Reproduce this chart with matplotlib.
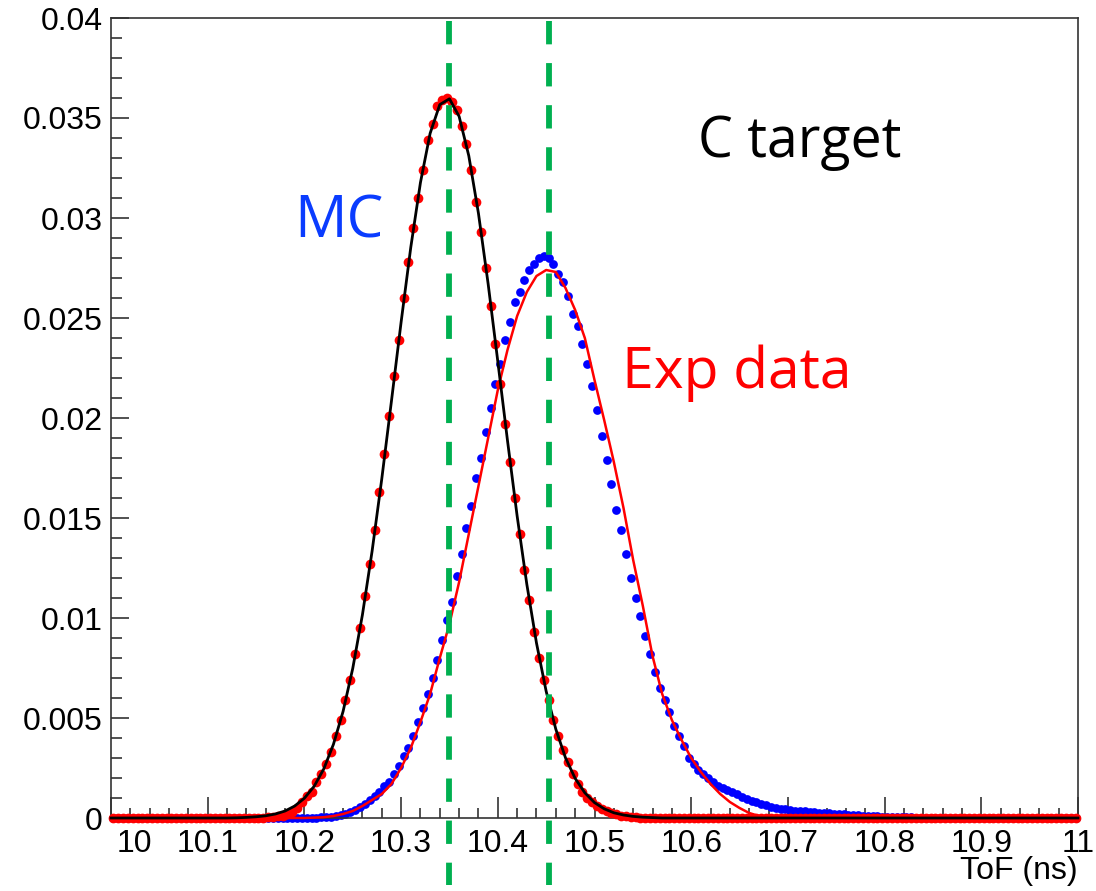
import numpy as np
import matplotlib.pyplot as plt
from matplotlib.ticker import MultipleLocator
from matplotlib.transforms import ScaledTranslation

plt.rcParams['font.family'] = ['Liberation Sans', 'DejaVu Sans']
plt.rcParams['lines.scale_dashes'] = False

# ToF histogram, 200 bins from 10 to 11 ns
tof_lo, tof_hi, n_bins = 10.0, 11.0, 200

# red points (black fit drawn over them)
red_points = [0.0] * 32 + [
    0.00003, 0.00005, 0.00008, 0.00012, 0.0002, 0.0003, 0.0005, 0.0008,
    0.0011, 0.0013, 0.0018, 0.0022, 0.0027, 0.0033, 0.0041, 0.0049,
    0.0059, 0.0069, 0.0082, 0.0095, 0.0111, 0.0127, 0.0144, 0.0163,
    0.0182, 0.0201, 0.0221, 0.0239, 0.0260, 0.0278, 0.0295, 0.0310,
    0.0324, 0.0339, 0.0347, 0.0356, 0.0359, 0.0360, 0.0358, 0.0354,
    0.0346, 0.0337, 0.0324, 0.0308, 0.0293, 0.0275, 0.0256, 0.0237,
    0.0217, 0.0197, 0.0178, 0.0160, 0.0142, 0.0124, 0.0109, 0.0093,
    0.0080, 0.0069, 0.0059, 0.0049, 0.0041, 0.0034, 0.0028, 0.0022,
    0.0017, 0.0013, 0.0010, 0.0008, 0.0006, 0.00045, 0.00035, 0.00025,
    0.00018, 0.00012, 0.00008, 0.00005, 0.00003, 0.00002,
] + [0.0] * 90

# blue points (red fit drawn over them)
blue_points = [0.0] * 41 + [
    0.00001, 0.00002, 0.00003, 0.00005, 0.00007, 0.0001, 0.00014, 0.0002,
    0.0003, 0.0004, 0.00055, 0.0007, 0.0009, 0.0011, 0.0013, 0.0016,
    0.0018, 0.0022, 0.0026, 0.0031, 0.0035, 0.0041, 0.0048, 0.0055,
    0.0062, 0.0070, 0.0079, 0.0089, 0.0099, 0.0108, 0.0121, 0.0132,
    0.0145, 0.0156, 0.0170, 0.0180, 0.0193, 0.0205, 0.0217, 0.0227,
    0.0239, 0.0248, 0.0258, 0.0263, 0.0269, 0.0274, 0.0277, 0.0280,
    0.0281, 0.0280, 0.0277, 0.0272, 0.0268, 0.0261, 0.0252, 0.0246,
    0.0237, 0.0227, 0.0216, 0.0204, 0.0191, 0.0179, 0.0167, 0.0154,
    0.0144, 0.0132, 0.0120, 0.0110, 0.0101, 0.0091, 0.0082, 0.0073,
    0.0065, 0.0059, 0.0053, 0.0046, 0.0041, 0.0036, 0.0030, 0.0027,
    0.0024, 0.0022, 0.0020, 0.0018, 0.0016, 0.0015, 0.0014, 0.0013,
    0.00118, 0.00106, 0.00095, 0.00086, 0.00078, 0.0007, 0.00063, 0.00057,
    0.00052, 0.00047, 0.00043, 0.0004, 0.00037, 0.00035, 0.00033, 0.00031,
    0.00029, 0.00027, 0.00025, 0.00023, 0.00021, 0.0002, 0.00018, 0.00017,
    0.00015, 0.00014, 0.00012, 0.00011, 0.0001, 0.00008, 0.00007, 0.00006,
    0.00005, 0.00005, 0.00004, 0.00003, 0.00003, 0.00002, 0.00002, 0.00001,
    0.00001, 0.00001,
] + [0.0] * 29

# fitted curves, sampled every 0.01 ns from 10 to 11
black_fit = [0.0] * 13 + [
    0.00001, 0.00003, 0.00006, 0.00011, 0.0002, 0.00035, 0.0006, 0.00099,
    0.00158, 0.00245, 0.00368, 0.00533, 0.00748, 0.01016, 0.01334, 0.01695,
    0.02084, 0.02479, 0.02853, 0.03177, 0.03423, 0.03567, 0.03596, 0.03508,
    0.03311, 0.03023, 0.02671, 0.02283, 0.01888, 0.0151, 0.01169, 0.00875,
    0.00634, 0.00444, 0.00301, 0.00198, 0.00126, 0.00077, 0.00046, 0.00026,
    0.00015, 0.00008, 0.00004, 0.00002,
] + [0.0] * 44

red_fit = [0.0] * 21 + [
    0.00002, 0.00004, 0.0001, 0.0002, 0.00035, 0.0006, 0.0009, 0.0012,
    0.0017, 0.0025, 0.0035, 0.0048, 0.0062, 0.0080, 0.0097, 0.0118,
    0.0142, 0.0166, 0.0190, 0.0214, 0.0234, 0.0251, 0.0263, 0.0271,
    0.0274, 0.0273, 0.0265, 0.0254, 0.0240, 0.0219, 0.0199, 0.0178,
    0.0155, 0.0129, 0.0106, 0.0081, 0.0062, 0.0049, 0.0039, 0.0030,
    0.0023, 0.0017, 0.0012, 0.0008, 0.0005, 0.00025, 0.0001, 0.00003,
] + [0.0] * 32

peak_lines = [10.35, 10.453]
x_tick_labels = ['10', '10.1', '10.2', '10.3', '10.4', '10.5', '10.6', '10.7', '10.8', '10.9', '11']
y_tick_labels = ['0', '0.005', '0.01', '0.015', '0.02', '0.025', '0.03', '0.035', '0.04']

bin_width = (tof_hi - tof_lo) / n_bins
centres = tof_lo + (np.arange(n_bins) + 0.5) * bin_width
fit_x = np.linspace(tof_lo, tof_hi, len(black_fit))

fig = plt.figure(figsize=(10.96, 8.91), dpi=100)
ax = fig.add_axes([111 / 1096, 1 - 818 / 891, 967 / 1096, 800 / 891])

ax.plot(centres, blue_points, 'o', color='#0000ff', ms=6.3, mec='none', clip_on=False, zorder=2)
ax.plot(centres, red_points, 'o', color='#ff0000', ms=7.0, mec='none', clip_on=False, zorder=3)
ax.plot(fit_x, red_fit, '-', color='#ff0000', lw=1.8, clip_on=False, zorder=4)
ax.plot(fit_x, black_fit, '-', color='black', lw=2.0, clip_on=False, zorder=5)

for xl in peak_lines:
    ax.plot([xl, xl], [0.03985, -0.00335], color='#00b050', lw=4.2,
            dashes=(16.8, 13.5), clip_on=False, zorder=10)

ax.set_xlim(tof_lo, tof_hi)
ax.set_ylim(0, 0.04)
ax.set_xticks(np.linspace(10, 11, 11))
ax.set_xticklabels(x_tick_labels)
ax.set_yticks(np.linspace(0, 0.04, 9))
ax.set_yticklabels(y_tick_labels)
ax.xaxis.set_minor_locator(MultipleLocator(0.02))
ax.yaxis.set_minor_locator(MultipleLocator(0.001))
ax.tick_params(axis='both', which='both', direction='in', top=False, right=False,
               width=1.2, color='#333333', labelsize=23)
ax.tick_params(axis='x', which='major', length=15, pad=8)
ax.tick_params(axis='x', which='minor', length=7)
ax.tick_params(axis='y', which='major', length=13, pad=6)
ax.tick_params(axis='y', which='minor', length=8)
for sp in ax.spines.values():
    sp.set_linewidth(1.2)
    sp.set_color('#333333')

# first x label sits right of its tick so it clears the "0" of the y axis
first = ax.get_xticklabels()[0]
first.set_horizontalalignment('left')
first.set_transform(first.get_transform() + ScaledTranslation(6 / 100, 0, fig.dpi_scale_trans))

fig.text(1078 / 1096, 1 - 856 / 891, 'ToF (ns)', ha='right', va='top', fontsize=23)

ax.text(10.1895, 0.0290, 'MC', color='#0a3cff', fontsize=42, family='Open Sans')
ax.text(10.607, 0.03305, 'C target', color='black', fontsize=40, family='Open Sans')
ax.text(10.528, 0.0215, 'Exp data', color='#ff0000', fontsize=41, family='Open Sans')

fig.savefig('out.png', dpi=100)
